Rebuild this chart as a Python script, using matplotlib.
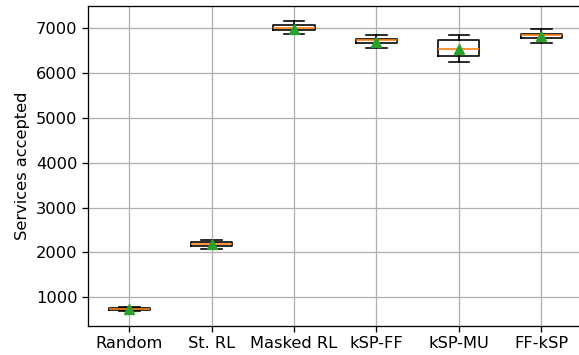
import matplotlib
matplotlib.use('Agg')
import matplotlib.pyplot as plt

labels = ['Random', 'St. RL', 'Masked RL', 'kSP-FF', 'kSP-MU', 'FF-kSP']
whislo = [690, 2085, 6860, 6540, 6235, 6670]
q1 = [715, 2140, 6955, 6660, 6380, 6780]
med = [738, 2185, 7000, 6720, 6520, 6830]
q3 = [760, 2228, 7060, 6750, 6720, 6865]
whishi = [785, 2272, 7160, 6830, 6845, 6970]
means = [735, 2178, 6980, 6685, 6535, 6815]

s = 1.17  # the reference looks rendered at a slightly larger scale
plt.rcParams['font.size'] = 10 * s
plt.rcParams['lines.linewidth'] = 1.5 * s
plt.rcParams['boxplot.boxprops.linewidth'] = 1.0 * s
plt.rcParams['boxplot.whiskerprops.linewidth'] = 1.0 * s
plt.rcParams['boxplot.capprops.linewidth'] = 1.0 * s
plt.rcParams['boxplot.medianprops.linewidth'] = 1.0 * s
plt.rcParams['boxplot.meanprops.markersize'] = 6 * s
plt.rcParams['grid.linewidth'] = 0.8 * s
plt.rcParams['axes.linewidth'] = 0.8 * s
plt.rcParams['xtick.major.size'] = 3.5 * s
plt.rcParams['ytick.major.size'] = 3.5 * s
plt.rcParams['xtick.major.width'] = 0.8 * s
plt.rcParams['ytick.major.width'] = 0.8 * s

stats = []
for i in range(len(labels)):
    stats.append({'label': labels[i], 'whislo': whislo[i], 'q1': q1[i],
                  'med': med[i], 'q3': q3[i], 'whishi': whishi[i],
                  'mean': means[i], 'fliers': []})

fig, ax = plt.subplots(figsize=(5.79, 3.55), dpi=100)
ax.bxp(stats, showmeans=True)
ax.set_ylabel('Services accepted')
ax.grid(True)
ax.set_axisbelow(True)
plt.subplots_adjust(left=0.152, right=1.006, top=0.983, bottom=0.082)
plt.savefig('out.png')
